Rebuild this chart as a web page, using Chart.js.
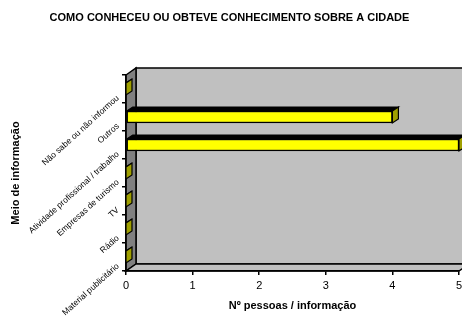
<!DOCTYPE html>
<html><head><meta charset="utf-8">
<script src="https://cdn.jsdelivr.net/npm/chart.js@4.4.0/dist/chart.umd.min.js"></script>
<style>html,body{margin:0;padding:0;background:#fff;} canvas{display:block;}</style>
</head><body>
<canvas id="c" width="462" height="320"></canvas>
<script>
const categories = ['Não sabe ou não informou','Outros','Atividade profissional / trabalho','Empresas de turismo','TV','Rádio','Material publicitário'];
const values = [0, 4, 5, 0, 0, 0, 0];
const xTicks = [0, 1, 2, 3, 4, 5];
const chartTitle = 'COMO CONHECEU OU OBTEVE CONHECIMENTO SOBRE A CIDADE';
const xTitle = 'Nº pessoas / informação';
const yTitle = 'Meio de informação';

const DX = 10, DY = 7;   // wall depth
const BDX = 6, BDY = 4;  // bar depth

const walls = {
  id: 'walls',
  beforeDraw(chart) {
    const {ctx, chartArea: a} = chart;
    ctx.save();
    ctx.lineJoin = 'miter';
    ctx.fillStyle = '#C0C0C0';
    ctx.fillRect(a.left + DX, a.top - DY, a.right - a.left, a.bottom - a.top);
    ctx.strokeStyle = '#000';
    ctx.lineWidth = 1.5;
    ctx.strokeRect(a.left + DX, a.top - DY, a.right - a.left, a.bottom - a.top);
    ctx.beginPath();
    ctx.moveTo(a.left, a.top);
    ctx.lineTo(a.left + DX, a.top - DY);
    ctx.lineTo(a.left + DX, a.bottom - DY);
    ctx.lineTo(a.left, a.bottom);
    ctx.closePath();
    ctx.fillStyle = '#808080';
    ctx.fill();
    ctx.stroke();
    ctx.beginPath();
    ctx.moveTo(a.left, a.bottom);
    ctx.lineTo(a.left + DX, a.bottom - DY);
    ctx.lineTo(a.right + DX, a.bottom - DY);
    ctx.lineTo(a.right, a.bottom);
    ctx.closePath();
    ctx.fillStyle = '#C0C0C0';
    ctx.fill();
    ctx.stroke();
    ctx.restore();
  },
  afterDatasetsDraw(chart) {
    const {ctx} = chart;
    const meta = chart.getDatasetMeta(0);
    ctx.save();
    ctx.strokeStyle = '#000';
    ctx.lineWidth = 1.2;
    meta.data.forEach(bar => {
      const {x, y, base, height} = bar.getProps(['x', 'y', 'base', 'height'], true);
      const top = y - height / 2, bottom = y + height / 2;
      ctx.beginPath();
      ctx.moveTo(base, top);
      ctx.lineTo(base + BDX, top - BDY);
      ctx.lineTo(x + BDX, top - BDY);
      ctx.lineTo(x, top);
      ctx.closePath();
      ctx.fillStyle = '#000';
      ctx.fill();
      ctx.stroke();
      ctx.beginPath();
      ctx.moveTo(x, top);
      ctx.lineTo(x + BDX, top - BDY);
      ctx.lineTo(x + BDX, bottom - BDY);
      ctx.lineTo(x, bottom);
      ctx.closePath();
      ctx.fillStyle = '#A0A000';
      ctx.fill();
      ctx.stroke();
    });
    ctx.restore();
  }
};

Chart.defaults.font.family = 'Arial, "Liberation Sans", sans-serif';
Chart.defaults.color = '#000';

new Chart(document.getElementById('c'), {
  type: 'bar',
  data: {
    labels: categories,
    datasets: [{
      data: values,
      backgroundColor: '#FFFF00',
      borderColor: '#000',
      borderWidth: 1.5,
      borderSkipped: false,
      barThickness: 12,
      clip: false
    }]
  },
  options: {
    indexAxis: 'y',
    responsive: false,
    animation: false,
    devicePixelRatio: 1,
    layout: {padding: {top: 0, right: 3, bottom: 0, left: 0}},
    plugins: {
      legend: {display: false},
      tooltip: {enabled: false},
      title: {
        display: true,
        text: chartTitle,
        font: {size: 11, weight: 'bold'},
        color: '#000',
        padding: {top: 11, bottom: 50.8}
      }
    },
    scales: {
      x: {
        min: 0, max: 5,
        afterBuildTicks: s => { s.ticks = xTicks.map(v => ({value: v})); },
        afterFit: s => { s.height = 49; s.paddingLeft = 0; s.paddingRight = 0; },
        grid: {drawOnChartArea: false, drawTicks: true, tickLength: 4, color: '#000', lineWidth: 1.5},
        border: {display: true, color: '#000', width: 1.5},
        ticks: {font: {size: 11}, color: '#000', padding: 4, maxRotation: 0},
        title: {display: true, text: xTitle, font: {size: 11, weight: 'bold'}, color: '#000', padding: {top: 0, bottom: 7.4}}
      },
      y: {
        afterFit: s => { s.width = 126; s.paddingTop = 0; s.paddingBottom = 0; },
        grid: {drawOnChartArea: false, drawTicks: true, tickLength: 4, color: '#000', lineWidth: 1.5, offset: true},
        border: {display: true, color: '#000', width: 1.5},
        ticks: {
          font: {size: 8.5},
          color: '#000', padding: 4, minRotation: 42, maxRotation: 42, labelOffset: 8, autoSkip: false
        },
        title: {display: true, text: yTitle, font: {size: 11, weight: 'bold'}, color: '#000', padding: {top: 9, bottom: 0}}
      }
    }
  },
  plugins: [walls]
});
</script>
</body></html>
